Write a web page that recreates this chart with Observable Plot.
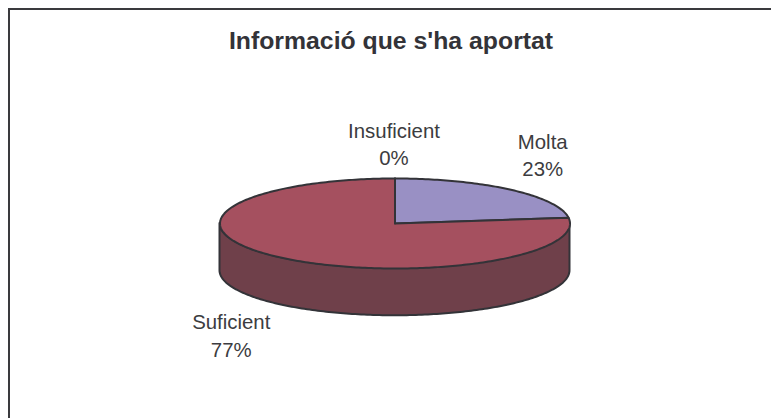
<!DOCTYPE html>
<html>
<head>
<meta charset="utf-8">
<script src="https://cdn.jsdelivr.net/npm/d3@7"></script>
<script src="https://cdn.jsdelivr.net/npm/@observablehq/plot@0.6"></script>
<style>
html,body{margin:0;padding:0;background:#fff;overflow:hidden}
#frame{position:absolute;left:8px;top:8px;width:763px;height:410px;box-sizing:border-box;border-left:2px solid #3a3a3e;border-top:2px solid #3a3a3e}
#chart{position:absolute;left:0;top:0}
svg{display:block}
</style>
</head>
<body>
<div id="frame"></div>
<div id="chart"></div>
<script>
const titleText = "Informació que s'ha aportat";
const categories = ["Molta", "Suficient", "Insuficient"];
const shares = [23, 77, 0];
const displayed = ["23%", "77%", "0%"];

const topColors = ["#9990c4", "#a5505f", "#a5505f"];
const sideColor = "#6f404a";
const ink = "#333338";
const labelInk = "#3c3c40";
const depth = 1.05;                 // pie thickness in ellipse radii
const labelShift = [[32, -36], [-48, 77], [-1, -36]];

const font = "Liberation Sans, Arial, sans-serif";
const total = d3.sum(shares);
const rim = deg => ({x: Math.sin(deg * Math.PI / 180), y: Math.cos(deg * Math.PI / 180)});

// top-face outlines, clockwise from twelve o'clock
let cum = 0;
const faces = [], anchors = [];
categories.forEach((name, i) => {
  const a0 = cum / total * 360, a1 = (cum + shares[i]) / total * 360;
  cum += shares[i];
  const pts = [{name, x: 0, y: 0, i}];
  for (const a of d3.range(a0, a1, 1)) pts.push({name, ...rim(a), i});
  pts.push({name, ...rim(a1), i}, {name, x: 0, y: 0, i});
  faces.push(...pts);
  const mid = rim((a0 + a1) / 2);
  anchors.push({name, ...mid, i, text: name + "\n" + displayed[i]});
});
const side = d3.range(90, 271, 1).map(a => rim(a));

const plot = Plot.plot({
  width: 771, height: 418,
  margin: 0,
  style: {background: "transparent", fontFamily: font},
  x: {domain: [-1, 1], range: [219.5, 569.5], axis: null},
  y: {domain: [-1, 1], range: [268, 178], axis: null},
  marks: [
    Plot.areaY(side, {
      x: "x", y1: "y", y2: d => d.y - depth,
      fill: sideColor, stroke: ink, strokeWidth: 2
    }),
    Plot.line(faces, {
      x: "x", y: "y", z: "name",
      fill: d => topColors[d.i],
      stroke: ink, strokeWidth: 2, strokeLinejoin: "round"
    }),
    ...anchors.map(d => Plot.text([d], {
      x: "x", y: "y", text: "text",
      dx: labelShift[d.i][0], dy: labelShift[d.i][1],
      fontSize: 20.4, lineHeight: 1.36, fill: labelInk, fontFamily: font
    })),
    Plot.text([titleText], {
      frameAnchor: "top", dx: 5, dy: 31,
      fontSize: 24.8, fontWeight: "bold", fill: "#333338", fontFamily: font
    })
  ]
});
document.getElementById("chart").appendChild(plot);
</script>
</body>
</html>
